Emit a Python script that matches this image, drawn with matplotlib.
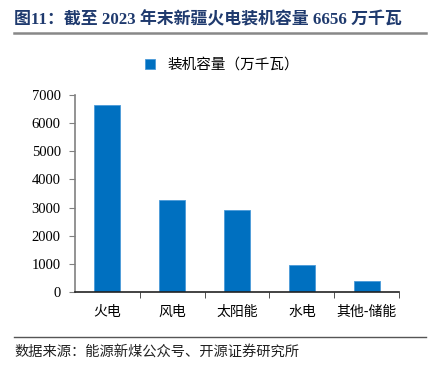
import numpy as np
import matplotlib.pyplot as plt
from matplotlib.lines import Line2D

# 数据
categories = ["火电", "风电", "太阳能", "水电", "其他-储能"]
values = [6656, 3260, 2900, 950, 390]
yticks = [0, 1000, 2000, 3000, 4000, 5000, 6000, 7000]

plt.rcParams['font.family'] = ['Liberation Serif', 'Noto Sans CJK SC', 'DejaVu Sans']

fig = plt.figure(figsize=(4.31, 3.75), dpi=100)
ax = fig.add_axes([0.1733, 0.2213, 0.7532, 0.5254])

x = np.arange(len(categories))
ax.bar(x, values, width=0.4, color="#0070C0", edgecolor="#4a9ad8", linewidth=0.6,
       label="装机容量（万千瓦）")

ax.set_xlim(-0.5, len(categories) - 0.5)
ax.set_ylim(0, 7000)
ax.set_yticks(yticks)
ax.set_yticklabels([str(v) for v in yticks], fontsize=10.5)
ax.set_xticks(x)
ax.set_xticklabels(categories, fontsize=10, family=['Noto Sans CJK SC'])
ax.tick_params(axis='x', length=0, pad=9)
ax.set_xticks(np.arange(0.5, len(categories)), minor=True)
ax.tick_params(axis='x', which='minor', length=4, direction='out', color='#333333')
ax.tick_params(axis='y', length=4, direction='out', color='#808080', pad=6)

for s in ['top', 'right']:
    ax.spines[s].set_visible(False)
ax.spines['left'].set_color('#808080')
ax.spines['left'].set_linewidth(1.2)
ax.spines['bottom'].set_color('#222222')
ax.spines['bottom'].set_linewidth(1.2)

leg = fig.legend(loc='center', bbox_to_anchor=(0.515, 0.827), frameon=False,
                 handlelength=0.7, handleheight=0.7, handletextpad=0.8,
                 prop={'family': ['Noto Sans CJK SC'], 'size': 10.5})

# 标题
fig.text(0.033, 0.948, "图11：截至 2023 年末新疆火电装机容量 6656 万千瓦",
         fontsize=12.2, fontweight='bold', color="#1F3A6E", va='center', ha='left')
fig.add_artist(Line2D([0.033, 0.988], [0.912, 0.912], color="#888888", linewidth=1.8))

# 来源
fig.add_artist(Line2D([0.033, 0.988], [0.101, 0.101], color="#555555", linewidth=1.0))
fig.text(0.033, 0.062, "数据来源：能源新煤公众号、开源证券研究所",
         fontsize=10.3, color="#222222", va='center', ha='left', family=['Noto Sans CJK SC'])

plt.savefig("out.png", dpi=100)
